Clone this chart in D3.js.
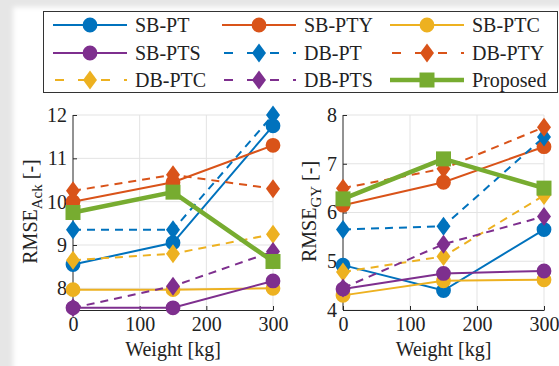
<!DOCTYPE html>
<html>
<head>
<meta charset="utf-8">
<script src="https://cdn.jsdelivr.net/npm/d3@7/dist/d3.min.js"></script>
<style>
  html, body { margin: 0; padding: 0; background: #ffffff; }
  svg { display: block; }
</style>
</head>
<body>
<svg id="chart" width="559" height="366"></svg>
<script>
// Payload weights on the x axis
const weights = [0, 150, 300];
const xTicks = [0, 100, 200, 300];
const ackTicks = [8, 9, 10, 11, 12];
const gyTicks = [4, 5, 6, 7, 8];

// Series, in legend / drawing order
const seriesNames = ["SB-PT", "SB-PTY", "SB-PTC", "SB-PTS", "DB-PT", "DB-PTY", "DB-PTC", "DB-PTS", "Proposed"];

// RMSE of the Ackermann model at 0 / 150 / 300 kg
const ackSBPT  = [8.55, 9.05, 11.75];
const ackSBPTY = [10.0, 10.45, 11.3];
const ackSBPTC = [7.97, 7.97, 8.0];
const ackSBPTS = [7.55, 7.55, 8.17];
const ackDBPT  = [9.35, 9.35, 12.0];
const ackDBPTY = [10.25, 10.62, 10.3];
const ackDBPTC = [8.65, 8.8, 9.25];
const ackDBPTS = [7.55, 8.05, 8.85];
const ackProposed = [9.75, 10.22, 8.62];

// RMSE of the GY model at 0 / 150 / 300 kg
const gySBPT  = [4.92, 4.4, 5.65];
const gySBPTY = [6.15, 6.62, 7.35];
const gySBPTC = [4.3, 4.6, 4.62];
const gySBPTS = [4.43, 4.75, 4.8];
const gyDBPT  = [5.65, 5.72, 7.55];
const gyDBPTY = [6.5, 6.9, 7.75];
const gyDBPTC = [4.78, 5.1, 6.35];
const gyDBPTS = [4.45, 5.35, 5.92];
const gyProposed = [6.28, 7.1, 6.5];

const ackValues = [ackSBPT, ackSBPTY, ackSBPTC, ackSBPTS, ackDBPT, ackDBPTY, ackDBPTC, ackDBPTS, ackProposed];
const gyValues  = [gySBPT, gySBPTY, gySBPTC, gySBPTS, gyDBPT, gyDBPTY, gyDBPTC, gyDBPTS, gyProposed];

// Visual style of each series
const C = { blue: "#0072BD", orange: "#D95319", yellow: "#EDB120", purple: "#7E2F8E", green: "#77AC30" };
const styleOf = {
  "SB-PT":    { color: C.blue,   dash: null,  marker: "circle",  width: 2 },
  "SB-PTY":   { color: C.orange, dash: null,  marker: "circle",  width: 2 },
  "SB-PTC":   { color: C.yellow, dash: null,  marker: "circle",  width: 2 },
  "SB-PTS":   { color: C.purple, dash: null,  marker: "circle",  width: 2 },
  "DB-PT":    { color: C.blue,   dash: "8,6", marker: "diamond", width: 2 },
  "DB-PTY":   { color: C.orange, dash: "8,6", marker: "diamond", width: 2 },
  "DB-PTC":   { color: C.yellow, dash: "8,6", marker: "diamond", width: 2 },
  "DB-PTS":   { color: C.purple, dash: "8,6", marker: "diamond", width: 2 },
  "Proposed": { color: C.green,  dash: null,  marker: "square",  width: 4.5 }
};

const FONT = '"Liberation Serif", monospace';
const TEXT_COLOR = "#222";
const svg = d3.select("#chart");

function serif(sel, size) {
  return sel.style("font-family", FONT).style("font-size", size + "px").style("fill", TEXT_COLOR);
}

// Page: white sheet with a soft grey margin top/left
const defs = svg.append("defs");
defs.append("filter").attr("id", "soft").attr("x", "-5%").attr("y", "-5%").attr("width", "110%").attr("height", "110%")
  .append("feGaussianBlur").attr("stdDeviation", 2.5);
svg.append("rect").attr("width", 559).attr("height", 366).attr("fill", "#e6e6e6");
svg.append("rect").attr("x", 13).attr("y", 7).attr("width", 560).attr("height", 380)
  .attr("fill", "#ffffff").attr("filter", "url(#soft)");

function markerPath(kind) {
  if (kind === "circle") return d3.symbol(d3.symbolCircle, Math.PI * 7.4 * 7.4)();
  if (kind === "square") return "M-7.5,-7.5H7.5V7.5H-7.5Z";
  return "M0,-9.5L7,0L0,9.5L-7,0Z";
}

function drawPanel(opts) {
  const { left, right, top, bottom, yDomain, yTicks, values, yLabelX, sub } = opts;
  const x = d3.scaleLinear().domain([0, 300]).range([left, right]);
  const y = d3.scaleLinear().domain(yDomain).range([bottom, top]);
  const g = svg.append("g");

  // grid
  g.append("g").selectAll("line").data(xTicks.filter(t => t > 0)).join("line")
    .attr("x1", d => x(d)).attr("x2", d => x(d)).attr("y1", top).attr("y2", bottom)
    .attr("stroke", "#e3e3e3").attr("stroke-width", 1);
  g.append("g").selectAll("line").data(yTicks).join("line")
    .attr("x1", left).attr("x2", right).attr("y1", d => y(d)).attr("y2", d => y(d))
    .attr("stroke", "#e3e3e3").attr("stroke-width", 1);

  // axes with inward ticks
  const xAxis = d3.axisBottom(x).tickValues(xTicks).tickFormat(d3.format("d"))
    .tickSizeInner(-4).tickSizeOuter(0).tickPadding(7);
  const yAxis = d3.axisLeft(y).tickValues(yTicks).tickFormat(d3.format("d"))
    .tickSizeInner(-4).tickSizeOuter(0).tickPadding(6);
  const gx = g.append("g").attr("transform", `translate(0,${bottom})`).call(xAxis);
  const gy = g.append("g").attr("transform", `translate(${left},0)`).call(yAxis);
  [gx, gy].forEach(a => {
    a.attr("font-family", null).attr("font-size", null);
    a.select(".domain").attr("stroke", "#262626").attr("stroke-width", 1);
    a.selectAll(".tick line").attr("stroke", "#262626");
    serif(a.selectAll(".tick text"), 20);
  });
  gy.select(".domain").attr("d", `M0,${bottom}V${top}`);

  // axis titles
  serif(svg.append("text").attr("x", (left + right) / 2).attr("y", 356).attr("text-anchor", "middle"), 20)
    .text("Weight [kg]");
  const yl = serif(svg.append("text")
    .attr("transform", `translate(${yLabelX},${(top + bottom) / 2 - 1}) rotate(-90)`)
    .attr("text-anchor", "middle"), 20);
  yl.append("tspan").text("RMSE");
  yl.append("tspan").attr("dy", 5).style("font-size", "15px").text(sub);
  yl.append("tspan").attr("dy", -5).text(" [-]");

  // series
  const line = d3.line().x((d, i) => x(weights[i])).y(d => y(d));
  seriesNames.forEach((name, k) => {
    const s = styleOf[name];
    const vals = values[k];
    g.append("path").attr("d", line(vals)).attr("fill", "none")
      .attr("stroke", s.color).attr("stroke-width", s.width)
      .attr("stroke-dasharray", s.dash);
    g.append("g").selectAll("path").data(vals).join("path")
      .attr("d", markerPath(s.marker))
      .attr("transform", (d, i) => `translate(${x(weights[i])},${y(d)})`)
      .attr("fill", s.color);
  });
}

drawPanel({ left: 73, right: 273, top: 115, bottom: 310, yDomain: [7.5, 12], yTicks: ackTicks,
            values: ackValues, yLabelX: 37, sub: "Ack" });
drawPanel({ left: 343, right: 544, top: 115, bottom: 310, yDomain: [4, 8], yTicks: gyTicks,
            values: gyValues, yLabelX: 316, sub: "GY" });

// Legend, 3 columns x 3 rows
const lg = svg.append("g");
lg.append("rect").attr("x", 43.5).attr("y", 11.5).attr("width", 514).attr("height", 81)
  .attr("fill", "#fff").attr("stroke", "#333").attr("stroke-width", 1);
const colX = [53, 222, 390];
const rowY = [25, 53, 80];
seriesNames.forEach((name, k) => {
  const s = styleOf[name];
  const cx = colX[k % 3], cy = rowY[Math.floor(k / 3)];
  lg.append("line").attr("x1", cx).attr("x2", cx + 74).attr("y1", cy).attr("y2", cy)
    .attr("stroke", s.color).attr("stroke-width", s.width)
    .attr("stroke-dasharray", s.dash ? "9,14" : null)
    .attr("stroke-dashoffset", s.dash ? -2 : null);
  lg.append("path").attr("d", markerPath(s.marker)).attr("transform", `translate(${cx + 37},${cy})`)
    .attr("fill", s.color);
  serif(lg.append("text").attr("x", cx + 82).attr("y", cy + 7), 20).text(name);
});
</script>
</body>
</html>
